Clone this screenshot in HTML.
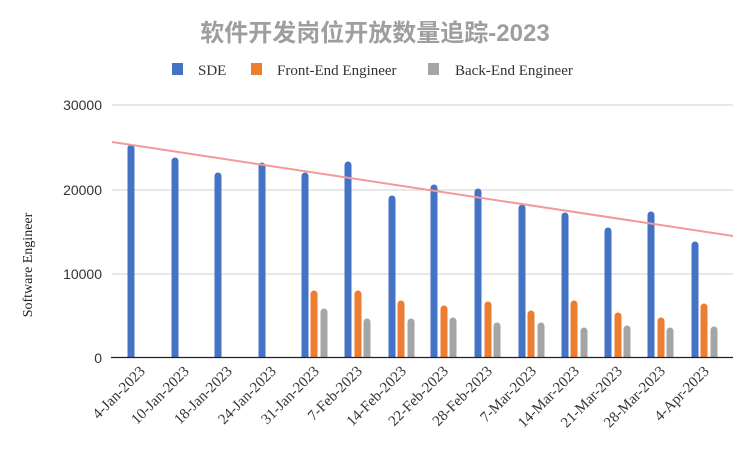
<!DOCTYPE html>
<html><head><meta charset="utf-8"><style>
html,body{margin:0;padding:0;background:#fff;}
svg{display:block;}
</style></head><body>
<svg width="746" height="456" xmlns="http://www.w3.org/2000/svg">
<rect width="746" height="456" fill="#fff"/>
<text x="375" y="41" text-anchor="middle" font-family="Liberation Sans, Noto Sans CJK SC, sans-serif" font-weight="bold" font-size="24" fill="#9e9e9e">软件开发岗位开放数量追踪-2023</text>
<g font-family="Liberation Serif, serif" font-size="15" fill="#333">
<rect x="172" y="63" width="11" height="12" fill="#4472c4"/><text x="198" y="75">SDE</text>
<rect x="251" y="63" width="11" height="12" fill="#ed7d31"/><text x="277" y="75">Front-End Engineer</text>
<rect x="428" y="63" width="11" height="12" fill="#a5a5a5"/><text x="455" y="75">Back-End Engineer</text>
</g>
<g stroke="#d0d0d0" stroke-width="1">
<line x1="112" y1="105" x2="733" y2="105"/>
<line x1="112" y1="190" x2="733" y2="190"/>
<line x1="112" y1="274" x2="733" y2="274"/>
</g>
<text transform="translate(32,265) rotate(-90)" text-anchor="middle" font-family="Liberation Serif, serif" font-size="14" fill="#222">Software Engineer</text>
<g stroke-linecap="round" stroke-width="7">
<g stroke="#4472c4">
<line x1="131" y1="358" x2="131" y2="148"/>
<line x1="175" y1="358" x2="175" y2="161"/>
<line x1="218" y1="358" x2="218" y2="176"/>
<line x1="262" y1="358" x2="262" y2="166"/>
<line x1="305" y1="358" x2="305" y2="176"/>
<line x1="348" y1="358" x2="348" y2="165"/>
<line x1="392" y1="358" x2="392" y2="199"/>
<line x1="434" y1="358" x2="434" y2="188"/>
<line x1="478" y1="358" x2="478" y2="192"/>
<line x1="522" y1="358" x2="522" y2="208"/>
<line x1="565" y1="358" x2="565" y2="216"/>
<line x1="608" y1="358" x2="608" y2="231"/>
<line x1="651" y1="358" x2="651" y2="215"/>
<line x1="695" y1="358" x2="695" y2="245"/>
</g>
<g stroke="#ed7d31">
<line x1="314" y1="358" x2="314" y2="294"/>
<line x1="358" y1="358" x2="358" y2="294"/>
<line x1="401" y1="358" x2="401" y2="304"/>
<line x1="444" y1="358" x2="444" y2="309"/>
<line x1="488" y1="358" x2="488" y2="305"/>
<line x1="531" y1="358" x2="531" y2="314"/>
<line x1="574" y1="358" x2="574" y2="304"/>
<line x1="618" y1="358" x2="618" y2="316"/>
<line x1="661" y1="358" x2="661" y2="321"/>
<line x1="704" y1="358" x2="704" y2="307"/>
</g>
<g stroke="#a5a5a5">
<line x1="324" y1="358" x2="324" y2="312"/>
<line x1="367" y1="358" x2="367" y2="322"/>
<line x1="411" y1="358" x2="411" y2="322"/>
<line x1="453" y1="358" x2="453" y2="321"/>
<line x1="497" y1="358" x2="497" y2="326"/>
<line x1="541" y1="358" x2="541" y2="326"/>
<line x1="584" y1="358" x2="584" y2="331"/>
<line x1="627" y1="358" x2="627" y2="329"/>
<line x1="670" y1="358" x2="670" y2="331"/>
<line x1="714" y1="358" x2="714" y2="330"/>
</g>
</g>
<rect x="112" y="358" width="634" height="10" fill="#fff"/>
<line x1="111" y1="357.5" x2="733" y2="357.5" stroke="#222" stroke-width="1.3"/>
<line x1="112" y1="142" x2="733" y2="236" stroke="#f4999a" stroke-width="2"/>
<g font-family="Liberation Sans, sans-serif" font-size="14" fill="#333" text-anchor="end">
<text x="102" y="110">30000</text>
<text x="102" y="195">20000</text>
<text x="102" y="279">10000</text>
<text x="102" y="363">0</text>
</g>
<g font-family="Liberation Serif, serif" font-size="15" fill="#333" text-anchor="end">
<text transform="translate(146,372) rotate(-45)">4-Jan-2023</text>
<text transform="translate(190,372) rotate(-45)">10-Jan-2023</text>
<text transform="translate(233,372) rotate(-45)">18-Jan-2023</text>
<text transform="translate(277,372) rotate(-45)">24-Jan-2023</text>
<text transform="translate(320,372) rotate(-45)">31-Jan-2023</text>
<text transform="translate(363,372) rotate(-45)">7-Feb-2023</text>
<text transform="translate(407,372) rotate(-45)">14-Feb-2023</text>
<text transform="translate(449,372) rotate(-45)">22-Feb-2023</text>
<text transform="translate(493,372) rotate(-45)">28-Feb-2023</text>
<text transform="translate(537,372) rotate(-45)">7-Mar-2023</text>
<text transform="translate(580,372) rotate(-45)">14-Mar-2023</text>
<text transform="translate(623,372) rotate(-45)">21-Mar-2023</text>
<text transform="translate(666,372) rotate(-45)">28-Mar-2023</text>
<text transform="translate(710,372) rotate(-45)">4-Apr-2023</text>
</g>
</svg>
</body></html>
